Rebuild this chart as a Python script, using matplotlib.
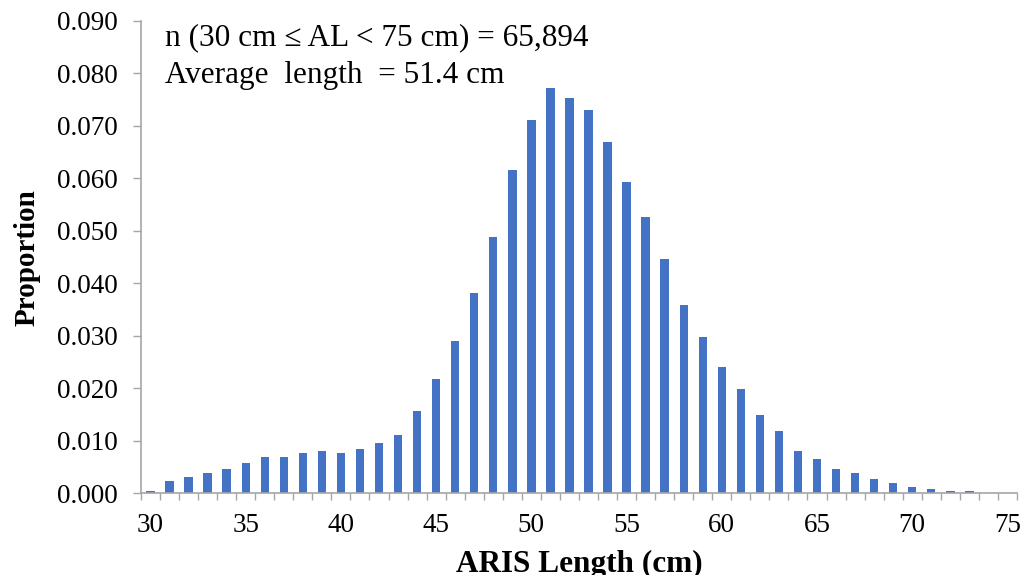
import numpy as np
import matplotlib
matplotlib.use("Agg")
import matplotlib.pyplot as plt

plt.rcParams['font.family'] = ['Liberation Serif', 'DejaVu Serif']

# ARIS length bins (cm) and proportion of fish in each bin
lengths = list(range(30, 76))
proportion = [0.0005, 0.0023, 0.0031, 0.0039, 0.0046, 0.0058, 0.0069, 0.0069,
              0.0077, 0.0081, 0.0077, 0.0084, 0.0096, 0.0111, 0.0157, 0.0218,
              0.0290, 0.0381, 0.0488, 0.0617, 0.0712, 0.0773, 0.0754, 0.0731,
              0.0670, 0.0594, 0.0526, 0.0446, 0.0358, 0.0298, 0.0241, 0.0198,
              0.0149, 0.0119, 0.0081, 0.0065, 0.0046, 0.0039, 0.0027, 0.0020,
              0.0012, 0.0008, 0.0004, 0.0004, 0.0001, 0.0001]
y_ticks = [0.000, 0.010, 0.020, 0.030, 0.040, 0.050, 0.060, 0.070, 0.080, 0.090]
label_every = 5

note_n = "n (30 cm \u2264 AL < 75 cm) = 65,894"
note_avg = "Average  length  = 51.4 cm"

axis_grey = "#A6A6A6"

fig = plt.figure(figsize=(10.23, 5.75), dpi=100)
ax = fig.add_axes([0.1378, 0.1421, 0.8563, 0.8214])

pos = np.arange(len(lengths))
ax.bar(pos, proportion, width=0.44, color="#4472C4")

ax.set_xlim(-0.5, len(lengths) - 0.5)
ax.set_ylim(0, 0.09)

# category labels every 5 cm, tick marks at every bin boundary
ax.set_xticks(pos[::label_every])
ax.set_xticklabels([str(v) for v in lengths[::label_every]])
ax.set_xticks(np.arange(len(lengths) + 1) - 0.5, minor=True)
ax.tick_params(axis='x', which='major', length=0, pad=14, labelsize=19.5)
ax.tick_params(axis='x', which='minor', length=5, width=1, color=axis_grey)

ax.set_yticks(y_ticks)
ax.set_yticklabels(["%.3f" % v for v in y_ticks])
ax.tick_params(axis='y', length=5.5, width=1, color=axis_grey, labelsize=19.5, pad=11)

for s in ['top', 'right']:
    ax.spines[s].set_visible(False)
for s in ['left', 'bottom']:
    ax.spines[s].set_color(axis_grey)
    ax.spines[s].set_linewidth(1.2)

ax.set_xlabel("ARIS Length (cm)", fontsize=22.5, fontweight='bold', labelpad=9)
ax.set_ylabel("Proportion", fontsize=21, fontweight='bold', labelpad=12)

ax.text(0.0274, 0.949, note_n, transform=ax.transAxes, fontsize=22.5,
        va='baseline', ha='left')
ax.text(0.0274, 0.869, note_avg, transform=ax.transAxes, fontsize=22.5,
        va='baseline', ha='left')

fig.savefig("out.png", dpi=100)
